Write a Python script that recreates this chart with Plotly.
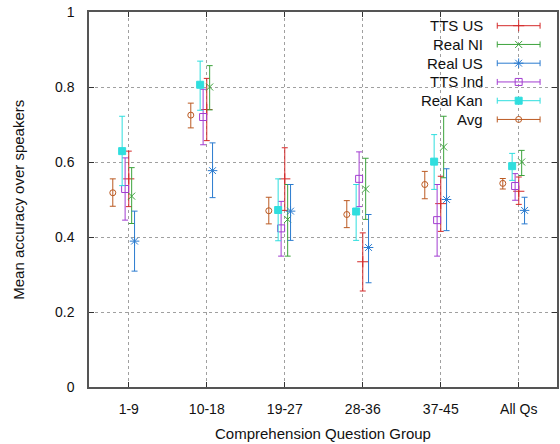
import plotly.graph_objects as go

# Question groups on the x axis
groups = ["1-9", "10-18", "19-27", "28-36", "37-45", "All Qs"]

# Mean accuracy with lower / upper bounds of the error bars, per speaker type
tts_us_mean = [0.555, 0.740, 0.555, 0.334, 0.489, 0.522]
tts_us_low = [0.481, 0.657, 0.471, 0.256, 0.415, 0.487]
tts_us_high = [0.629, 0.823, 0.638, 0.411, 0.562, 0.560]

real_ni_mean = [0.509, 0.800, 0.447, 0.528, 0.640, 0.600]
real_ni_low = [0.436, 0.739, 0.349, 0.447, 0.558, 0.564]
real_ni_high = [0.585, 0.857, 0.540, 0.610, 0.722, 0.631]

real_us_mean = [0.389, 0.577, 0.469, 0.372, 0.500, 0.471]
real_us_low = [0.309, 0.505, 0.391, 0.278, 0.417, 0.435]
real_us_high = [0.469, 0.651, 0.540, 0.460, 0.582, 0.506]

tts_ind_mean = [0.528, 0.720, 0.423, 0.555, 0.445, 0.536]
tts_ind_low = [0.445, 0.646, 0.349, 0.481, 0.349, 0.498]
tts_ind_high = [0.611, 0.794, 0.495, 0.627, 0.540, 0.569]

real_kan_mean = [0.629, 0.806, 0.472, 0.468, 0.601, 0.589]
real_kan_low = [0.537, 0.738, 0.390, 0.391, 0.527, 0.551]
real_kan_high = [0.722, 0.869, 0.555, 0.540, 0.673, 0.623]

avg_mean = [0.518, 0.725, 0.470, 0.460, 0.540, 0.543]
avg_low = [0.482, 0.691, 0.435, 0.425, 0.502, 0.528]
avg_high = [0.555, 0.757, 0.506, 0.497, 0.575, 0.556]

series = [
    # name, mean, low, high, x offset, colour, symbol, size
    ("TTS US", tts_us_mean, tts_us_low, tts_us_high, 0.0, "#d42a2a", "cross-thin-open", 8),
    ("Real NI", real_ni_mean, real_ni_low, real_ni_high, 0.037, "#3ca33c", "x-thin-open", 7),
    ("Real US", real_us_mean, real_us_low, real_us_high, 0.074, "#2b7bcf", "asterisk-open", 8),
    ("TTS Ind", tts_ind_mean, tts_ind_low, tts_ind_high, -0.047, "#a23dd1", "square-open", 7),
    ("Real Kan", real_kan_mean, real_kan_low, real_kan_high, -0.085, "#2fdede", "square", 7),
    ("Avg", avg_mean, avg_low, avg_high, -0.205, "#bb5a22", "circle-open", 6),
]

FONT = "Liberation Sans, Arial, sans-serif"
W, H = 560, 444
L, R, T, B = 89, 1, 12, 57

fig = go.Figure()

for name, mean, low, high, off, col, sym, size in series:
    xs = [i + off for i in range(len(groups))]
    fig.add_trace(go.Scatter(
        x=xs, y=mean, mode="markers", name=name, showlegend=False,
        marker=dict(symbol=sym, size=size, color=col, line=dict(color=col, width=1)),
        error_y=dict(type="data", symmetric=False,
                     array=[h - m for h, m in zip(high, mean)],
                     arrayminus=[m - lo for m, lo in zip(mean, low)],
                     color=col, thickness=1, width=3),
        cliponaxis=False,
    ))

# Key in the upper right corner: label on the left, sample bar on the right
plot_w = W - L - R
plot_h = H - T - B
key_text_right = 487
key_sample_x = 520.5
key_half = 21.5
key_top = 25.7
key_step = 18.75

for k, (name, mean, low, high, off, col, sym, size) in enumerate(series):
    ypx = key_top + k * key_step
    fig.add_trace(go.Scatter(
        x=[key_sample_x], y=[ypx], mode="markers", xaxis="x2", yaxis="y2",
        showlegend=False, hoverinfo="skip",
        marker=dict(symbol=sym, size=size, color=col, line=dict(color=col, width=1)),
        error_x=dict(type="constant", value=key_half, color=col, thickness=1, width=3),
        cliponaxis=False,
    ))
    fig.add_annotation(
        x=(key_text_right - L) / plot_w, y=1 - (ypx - T) / plot_h,
        xref="paper", yref="paper", xanchor="right", yanchor="middle",
        text=name, showarrow=False, font=dict(family=FONT, size=15, color="#111111"),
    )

# White backing behind the key so the grid does not show through
fig.add_shape(type="rect", xref="paper", yref="paper",
              x0=(416 - L) / plot_w, x1=1, y0=1 - (130 - T) / plot_h, y1=1,
              fillcolor="white", line=dict(width=0), layer="between")

axis_common = dict(
    showline=True, linecolor="#555555", linewidth=1.5, mirror="ticks",
    ticks="inside", ticklen=5, tickcolor="#333333", tickwidth=1,
    showgrid=True, gridcolor="#a0a0a0", gridwidth=1, griddash="dot",
    zeroline=False, tickfont=dict(family=FONT, size=14, color="#111111"),
)

fig.update_layout(
    width=W, height=H,
    margin=dict(l=L, r=R, t=T, b=B),
    paper_bgcolor="white", plot_bgcolor="white",
    xaxis=dict(range=[-0.51, 5.49], tickvals=list(range(len(groups))), ticktext=groups,
               ticklabelstandoff=8, **axis_common),
    yaxis=dict(range=[0, 1], tickvals=[0, 0.2, 0.4, 0.6, 0.8, 1],
               ticktext=["0", "0.2", "0.4", "0.6", "0.8", "1"],
               ticklabelstandoff=10, **axis_common),
    xaxis2=dict(overlaying="x", range=[L, W - R], visible=False),
    yaxis2=dict(overlaying="y", range=[H - B, T], visible=False),
    showlegend=False,
)

fig.add_annotation(x=0.5004, y=-(433 - (H - B)) / plot_h, xref="paper", yref="paper",
                   xanchor="center", yanchor="middle", showarrow=False,
                   text="Comprehension Question Group",
                   font=dict(family=FONT, size=15, color="#111111"))
fig.add_annotation(x=(18 - L) / plot_w, y=0.5, xref="paper", yref="paper",
                   xanchor="center", yanchor="middle", showarrow=False, textangle=-90,
                   text="Mean accuracy over speakers",
                   font=dict(family=FONT, size=15, color="#111111"))

fig.write_html("out.html")
